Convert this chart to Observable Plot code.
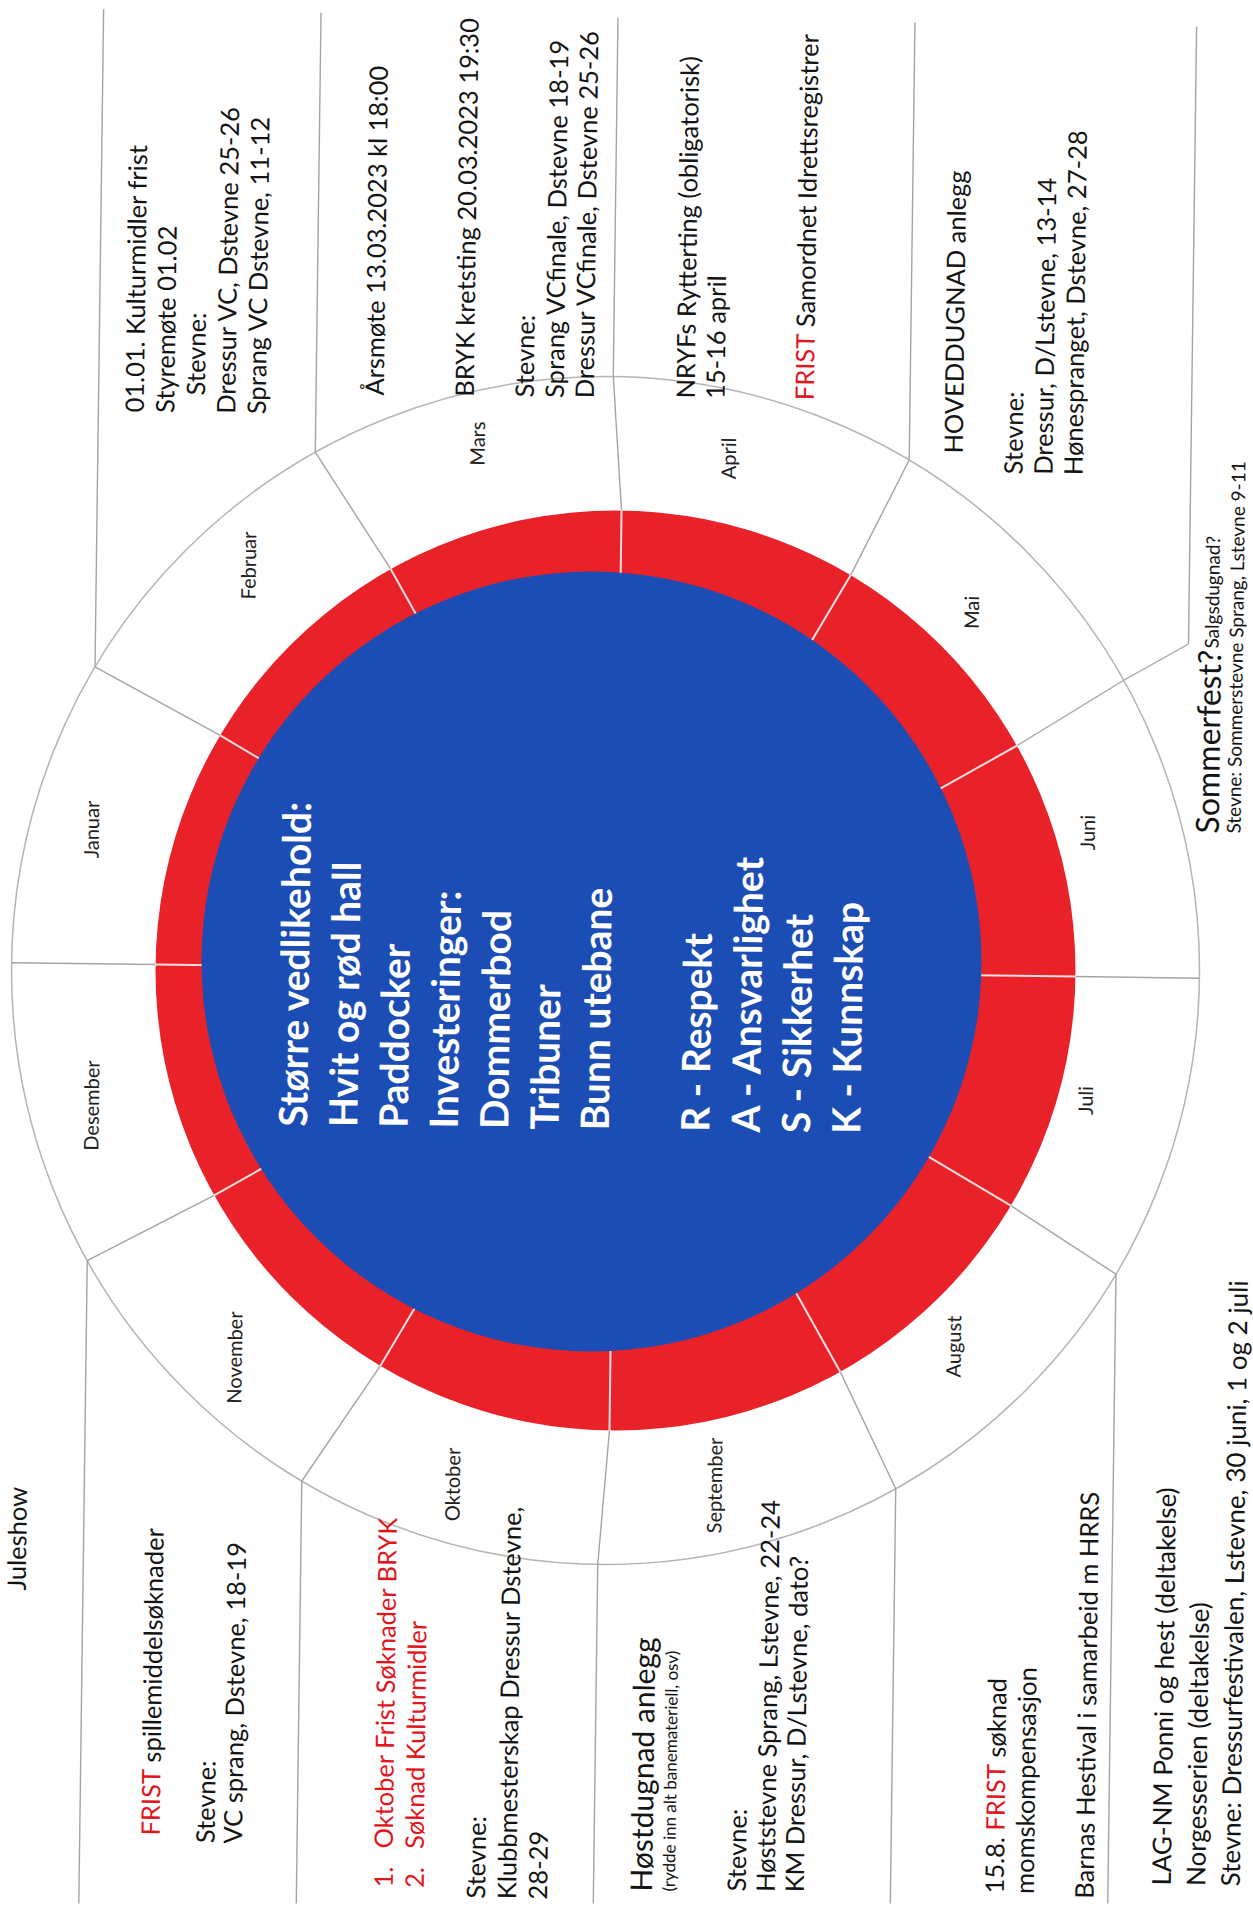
<!DOCTYPE html>
<html><head><meta charset="utf-8">
<script src="https://cdn.jsdelivr.net/npm/d3@7"></script>
<script src="https://cdn.jsdelivr.net/npm/@observablehq/plot@0.6"></script>
<style>
html,body{margin:0;padding:0;background:#fff;}
#chart svg{display:block;overflow:hidden;background:#fff;}
g[aria-label="months"] text{letter-spacing:3px;}
</style></head><body><div id="chart"></div>
<script>
// ---------- data ----------
const months = ["Januar","Februar","Mars","April","Mai","Juni","Juli","August","September","Oktober","November","Desember"];

const centreMaintenance = ["Større vedlikehold:","Hvit og rød hall","Paddocker","Investeringer:","Dommerbod","Tribuner","Bunn utebane","","R - Respekt","A - Ansvarlighet","S - Sikkerhet","K - Kunnskap"];

const notesJanuar = ["01.01. Kulturmidler frist","Styremøte 01.02","Stevne:","Dressur VC, Dstevne 25-26","Sprang VC Dstevne, 11-12"];
const notesMars = ["Årsmøte 13.03.2023 kl 18:00","","","BRYK kretsting 20.03.2023 19:30","","Stevne:","Sprang VCfinale, Dstevne 18-19","Dressur VCfinale, Dstevne 25-26"];
const notesApril = ["NRYFs Rytterting (obligatorisk)","15-16 april","","","[FRIST] Samordnet Idrettsregistrer"];
const notesMai = ["HOVEDDUGNAD anlegg","","Stevne:","Dressur, D/Lstevne, 13-14","Hønespranget, Dstevne, 27-28"];
const notesJuniHead = ["Sommerfest?"];
const notesJuniSub = ["Salgsdugnad?"];
const notesJuniStevne = ["Stevne: Sommerstevne Sprang, Lstevne 9-11"];
const notesJuleshow = ["Juleshow"];
const notesNovember = ["[FRIST] spillemiddelsøknader","","Stevne:","VC sprang, Dstevne, 18-19"];
const notesOktoberNum = ["[1.]","[2.]"];
const notesOktober = ["[Oktober Frist Søknader BRYK]","[Søknad Kulturmidler]","","Stevne:","Klubbmesterskap Dressur Dstevne,","28-29"];
const notesSeptHead = ["Høstdugnad anlegg"];
const notesSeptSub = ["(rydde inn alt banemateriell, osv)"];
const notesSept = ["Stevne:","Høststevne Sprang, Lstevne, 22-24","KM Dressur, D/Lstevne, dato?"];
const notesAugust = ["15.8. [FRIST] søknad","momskompensasjon","","Barnas Hestival i samarbeid m HRRS"];
const notesJuli = ["LAG-NM Ponni og hest (deltakelse)","Norgesserien (deltakelse)","Stevne: Dressurfestivalen, Lstevne, 30 juni, 1 og 2 juli"];

// ---------- layout ----------
const W = 1253, H = 1919;
const TILT = 0.75, T = TILT * Math.PI / 180;
const S = [Math.cos(T), Math.sin(T)];      // line stacking direction
const U = [Math.sin(T), -Math.cos(T)];     // reading direction (upwards)
const OC = [605, 970], R_OUT = 594;
const RC = [615, 970], R_RED = 460;
const BC = [591, 961], R_BLUE = 390;
const RED = "#e9222a", BLUE = "#1c4db4", GRAY = "#a4a4a4", INK = "#141414", RED_TXT = "#e3151c";
const FONT = "Lato";

const monthLabelPos = [[92,829],[249,565],[478,443],[729,458],[972,612],[1088,832],[1086,1100],[954,1346],[715,1485],[453,1484],[235,1357],[92,1105]];

const blocks = [
  {lines: centreMaintenance, x: 294, y: 1126, dy: 50.3, size: 39, weight: 700, color: "#ffffff"},
  {lines: notesJanuar, x: 135, y: 412, dy: 30.5, size: 25.5, indent: {2: 18}},
  {lines: notesMars, x: 375, y: 395, dy: 30, size: 25.5},
  {lines: notesApril, x: 686, y: 398, dy: 29.8, size: 25.5},
  {lines: notesMai, x: 954, y: 453, dy: 30, size: 25.5, indent: {2: -20, 3: -20, 4: -20}},
  {lines: notesJuniHead, x: 1208, y: 833, dy: 0, size: 32},
  {lines: notesJuniSub, x: 1212, y: 648, dy: 0, size: 19},
  {lines: notesJuniStevne, x: 1234, y: 833, dy: 0, size: 19},
  {lines: notesJuleshow, x: 17, y: 1590, dy: 0, size: 25.5},
  {lines: notesNovember, x: 151, y: 1835, dy: 27.5, size: 25.5, indent: {2: -7, 3: -7}},
  {lines: notesOktoberNum, x: 384, y: 1887, dy: 31, size: 25.5},
  {lines: notesOktober, x: 384, y: 1848, dy: 31, size: 25.5, indent: {3: -49, 4: -49, 5: -49}},
  {lines: notesSeptHead, x: 642, y: 1891, dy: 0, size: 30},
  {lines: notesSeptSub, x: 669, y: 1891, dy: 0, size: 17},
  {lines: notesSept, x: 737, y: 1891, dy: 29, size: 25.5},
  {lines: notesAugust, x: 995, y: 1893, dy: 30, size: 25.5, indent: {3: -4}},
  {lines: notesJuli, x: 1162, y: 1885, dy: 34.5, size: 26}
];

// ---------- helpers ----------
const ctx = document.createElement("canvas").getContext("2d");
function measure(str, size, weight) { ctx.font = `${weight} ${size}px ${FONT}`; return ctx.measureText(str).width; }
function parse(line) {
  const segs = []; const re = /\[([^\]]*)\]|([^\[]+)/g; let m;
  while ((m = re.exec(line))) segs.push(m[1] !== undefined ? {t: m[1], red: true} : {t: m[2], red: false});
  return segs;
}
function layoutBlock(b) {
  const out = [];
  b.lines.forEach((line, i) => {
    if (!line) return;
    const ind = (b.indent && b.indent[i]) || 0;
    const bx = b.x + S[0] * i * b.dy + U[0] * ind;
    const by = b.y + S[1] * i * b.dy + U[1] * ind;
    let prefix = "";
    for (const s of parse(line)) {
      const lead = s.t.match(/^\s*/)[0];
      const txt = s.t.trim();
      const off = measure(prefix + lead, b.size, b.weight || 400);
      if (txt) out.push({x: bx + U[0] * off, y: by + U[1] * off, text: txt, fill: s.red ? RED_TXT : (b.color || INK)});
      prefix += s.t;
    }
  });
  return out;
}
const dir = a => { const r = (a + TILT) * Math.PI / 180; return [Math.cos(r), Math.sin(r)]; };
const pt = (c, r, d) => [c[0] + r * d[0], c[1] + r * d[1]];
const yTop = x => 17 + (x - 605) * 0.016;
const Y_BOTTOM = 1903;

// month boundaries: boundary k lies between month k-1 and month k (k=0: Desember|Januar)
const boundaries = months.map((m, k) => 180 + 30 * k);

const redSeparators = boundaries.map(a => { const d = dir(a); const p = pt(RC, 300, d), q = pt(RC, R_RED + 1, d); return {x1: p[0], y1: p[1], x2: q[0], y2: q[1]}; });
const ringLines = boundaries.map(a => { const d = dir(a); const p = pt(RC, R_RED, d), q = pt(OC, R_OUT, d); return {x1: p[0], y1: p[1], x2: q[0], y2: q[1]}; });

const connectors = [];
boundaries.forEach(a => {
  const n = ((a % 360) + 360) % 360;
  const d = dir(n);
  let J = pt(OC, R_OUT, d);
  if (n === 330) {
    const t = (1188 - OC[0]) / d[0];
    const J2 = pt(OC, t, d);
    connectors.push({x1: J[0], y1: J[1], x2: J2[0], y2: J2[1]});
    J = J2;
  }
  if (n >= 195 && n <= 345) {
    const t = (J[1] - yTop(J[0])) / Math.cos(T);
    connectors.push({x1: J[0], y1: J[1], x2: J[0] + U[0] * t, y2: J[1] + U[1] * t});
  } else if (n >= 15 && n <= 165) {
    const t = (Y_BOTTOM - J[1]) / Math.cos(T);
    connectors.push({x1: J[0], y1: J[1], x2: J[0] - U[0] * t, y2: J[1] - U[1] * t});
  }
});

const monthData = months.map((m, i) => ({name: m, x: monthLabelPos[i][0], y: monthLabelPos[i][1]}));

const textMarks = blocks.map(b => Plot.text(layoutBlock(b), {
  x: "x", y: "y", text: "text", fill: "fill",
  rotate: -90 + TILT, textAnchor: "start", lineAnchor: "middle",
  fontSize: b.size, fontWeight: b.weight || 400, fontFamily: FONT
}));

const chart = Plot.plot({
  width: W, height: H, margin: 0,
  x: {type: "linear", domain: [0, W], range: [0, W], axis: null},
  y: {type: "linear", domain: [0, H], range: [0, H], axis: null},
  color: {type: "identity"},
  marks: [
    Plot.dot([RC], {x: d => d[0], y: d => d[1], r: R_RED, fill: RED, stroke: "none"}),
    Plot.link(redSeparators, {x1: "x1", y1: "y1", x2: "x2", y2: "y2", stroke: "#ffffff", strokeWidth: 2, strokeOpacity: 0.85}),
    Plot.dot([BC], {x: d => d[0], y: d => d[1], r: R_BLUE, fill: BLUE, stroke: "none"}),
    Plot.dot([OC], {x: d => d[0], y: d => d[1], r: R_OUT, fill: "none", stroke: "#b4b4b4", strokeWidth: 1.5}),
    Plot.link(ringLines, {x1: "x1", y1: "y1", x2: "x2", y2: "y2", stroke: GRAY, strokeWidth: 1.4}),
    Plot.link(connectors, {x1: "x1", y1: "y1", x2: "x2", y2: "y2", stroke: GRAY, strokeWidth: 1.4}),
    Plot.text(monthData, {x: "x", y: "y", text: "name", rotate: -90 + TILT, textAnchor: "middle", lineAnchor: "middle",
      fontSize: 20, fontFamily: FONT, fill: "#222222", ariaLabel: "months"}),
    ...textMarks
  ]
});
document.getElementById("chart").appendChild(chart);
</script>
</body></html>
